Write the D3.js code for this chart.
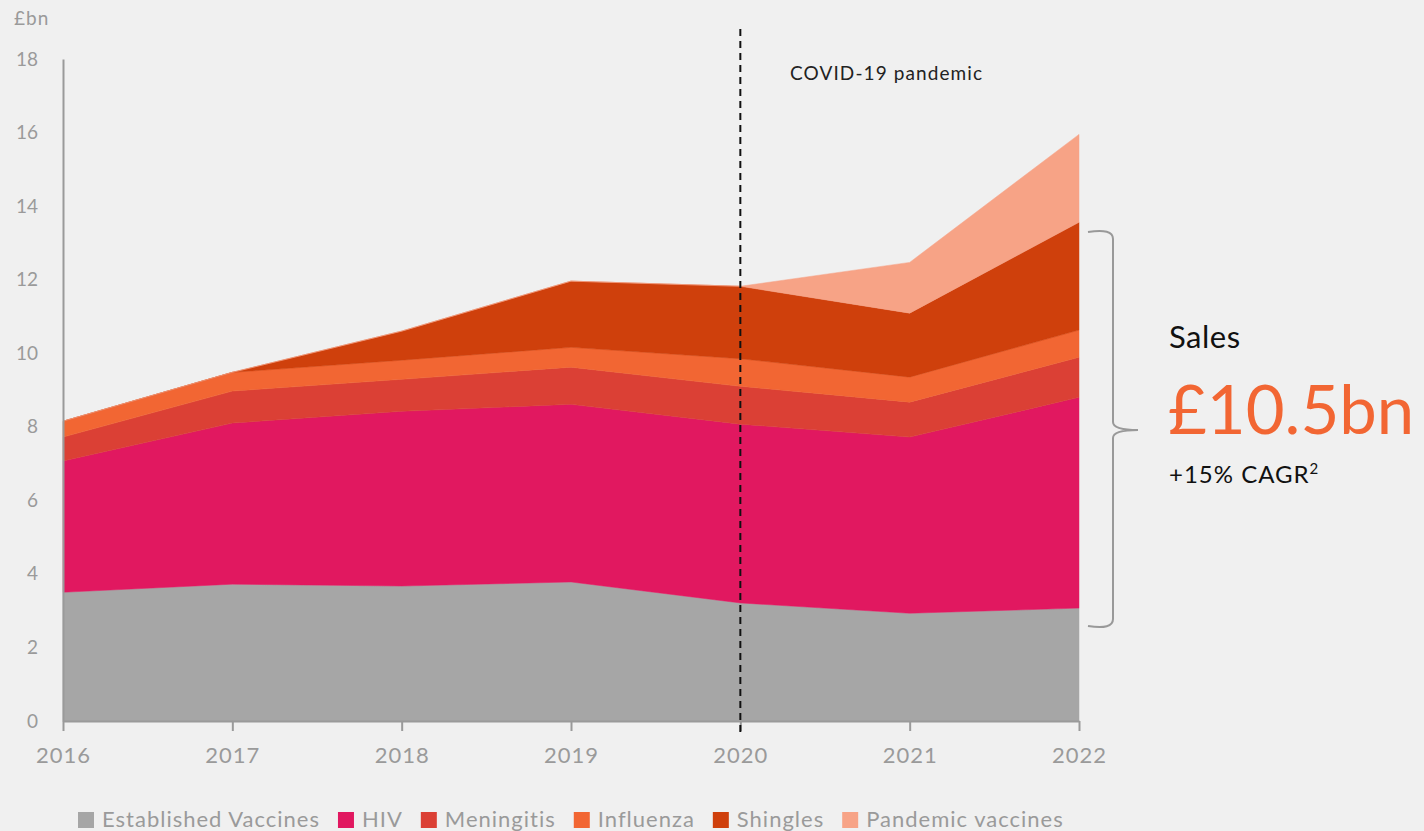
<!DOCTYPE html>
<html><head><meta charset="utf-8">
<script src="https://cdn.jsdelivr.net/npm/d3@7"></script>
<style>
body{margin:0;background:#f0f0f0;}
svg{display:block;font-family:Lato,"Open Sans",sans-serif;}
</style></head>
<body><svg id="c" width="1424" height="831"></svg>
<script>
const years = ["2016","2017","2018","2019","2020","2021","2022"];
const seriesNames = ["Established Vaccines","HIV","Meningitis","Influenza","Shingles","Pandemic vaccines"];
const established = [3.50,3.72,3.67,3.78,3.21,2.93,3.07];
const hiv         = [3.57,4.38,4.75,4.83,4.86,4.79,5.73];
const meningitis  = [0.65,0.87,0.87,1.01,1.03,0.95,1.09];
const influenza   = [0.43,0.51,0.52,0.54,0.75,0.68,0.74];
const shingles    = [0.00,0.00,0.79,1.80,1.97,1.74,2.93];
const pandemic    = [0.00,0.00,0.00,0.00,0.00,1.38,2.39];
const yTicks = [0,2,4,6,8,10,12,14,16,18];
const colors = ["#a6a6a6","#e11860","#db4035","#f26633","#cf400c","#f7a386"];

const seriesVals = [established,hiv,meningitis,influenza,shingles,pandemic];
const rows = years.map((y,i)=>{const r={year:y}; seriesNames.forEach((n,k)=>r[n]=seriesVals[k][i]); return r;});
const stack = d3.stack().keys(seriesNames)(rows);

const svg = d3.select("#c");
const x = d3.scalePoint().domain(years).range([63,1079]);
const y = d3.scaleLinear().domain([0,18]).range([721,59]);

const area = d3.area().x(d=>x(d.data.year)).y0(d=>y(d[0])).y1(d=>y(d[1]));
svg.append("g").selectAll("path").data(stack).join("path")
  .attr("d",area).attr("fill",(d,i)=>colors[i])
  .attr("stroke",(d,i)=>colors[i]).attr("stroke-width",0.5);

// y axis
const ya = svg.append("g").attr("transform","translate(63,0)")
  .call(d3.axisLeft(y).tickValues(yTicks).tickSize(0).tickPadding(25).tickFormat(d3.format("d")));
ya.select(".domain").attr("stroke","#9a9a9a").attr("stroke-width",2);
ya.selectAll("text").attr("fill","#9a9a9a").attr("font-size",19).attr("font-family","Lato");

// x axis
const xa = svg.append("g").attr("transform","translate(0,721)")
  .call(d3.axisBottom(x).tickSize(10).tickSizeOuter(0).tickPadding(16));
xa.select(".domain").attr("stroke","#9a9a9a").attr("stroke-width",2);
xa.selectAll(".tick line").attr("stroke","#9a9a9a").attr("stroke-width",2);
xa.selectAll("text").attr("fill","#9a9a9a").attr("font-size",22).attr("font-family","Lato").attr("letter-spacing",1);

svg.append("text").attr("x",14).attr("y",25).text("£bn")
  .attr("fill","#9a9a9a").attr("font-size",19).attr("letter-spacing",1);

// covid line
svg.append("line").attr("x1",x("2020")).attr("x2",x("2020")).attr("y1",29).attr("y2",737)
  .attr("stroke","#111").attr("stroke-width",2).attr("stroke-dasharray","7,5");
svg.append("text").attr("x",790).attr("y",80).text("COVID-19 pandemic")
  .attr("fill","#222").attr("font-size",19).attr("letter-spacing",1.1);

// bracket
const bTop=229, bBot=629, mid=430;
const bx0=1088,bx1=1113,bx2=1138;
const bp = `M${bx0},${bTop+3} Q${bx1},${bTop-1} ${bx1},${bTop+10} L${bx1},${mid-8} Q${bx1},${mid} ${bx2},${mid} Q${bx1},${mid} ${bx1},${mid+8} L${bx1},${bBot-10} Q${bx1},${bBot+1} ${bx0},${bBot-3}`;
svg.append("path").attr("d",bp).attr("fill","none").attr("stroke","#999").attr("stroke-width",2);

svg.append("text").attr("x",1169).attr("y",348).text("Sales").attr("fill","#111").attr("font-size",31).attr("letter-spacing",0.5);
svg.append("text").attr("x",1168).attr("y",434).text("£10.5bn").attr("fill","#f26633")
  .attr("font-size",67).attr("font-weight",400);
const cg = svg.append("text").attr("x",1169).attr("y",483).attr("fill","#111").attr("font-size",24).attr("letter-spacing",1);
cg.append("tspan").text("+15% CAGR");
cg.append("tspan").text("2").attr("font-size",15).attr("dy",-9);

// legend
const lg = svg.append("g").attr("transform","translate(78,827)");
let cx = 0;
seriesNames.forEach((n,i)=>{
  lg.append("rect").attr("x",cx).attr("y",-15).attr("width",16).attr("height",16).attr("fill",colors[i]);
  const t = lg.append("text").attr("x",cx+24).attr("y",0).text(n).attr("fill","#9a9a9a")
    .attr("font-size",22).attr("letter-spacing",1.0);
  cx += 24 + t.node().getComputedTextLength() + 18;
});
</script></body></html>
